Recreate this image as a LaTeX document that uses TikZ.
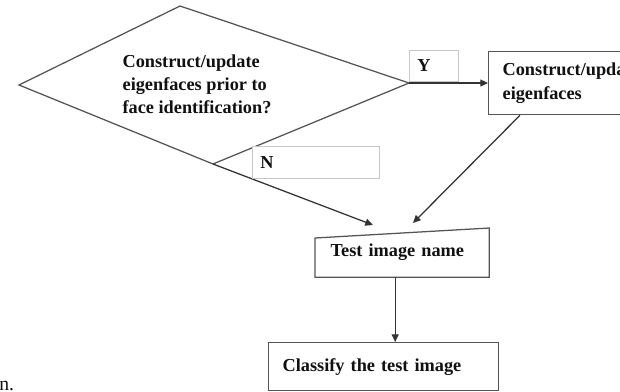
\documentclass[tikz,border=0pt]{standalone}
\usepackage{fontspec}
\setmainfont{Liberation Serif}
\usetikzlibrary{arrows.meta, positioning, calc}
\definecolor{shapegray}{HTML}{555555}
\definecolor{arrowdark}{HTML}{333333}
\definecolor{labelgray}{HTML}{C8C8C8}
\definecolor{textdark}{HTML}{111111}

\begin{document}
\begin{tikzpicture}[
    x=0.025cm, y=-0.025cm,
    % ── Node styles ──────────────────────────────────────────────────────
    base/.style={
        font=\fontsize{13}{17}\selectfont\bfseries,
        text=textdark, align=left, line width=0.9pt
    },
    procbox/.style={
        base, draw=shapegray, fill=white, anchor=north west,
        inner xsep=0.35cm, inner ysep=0pt
    },
    inputbox/.style={
        base, anchor=north west,
        inner xsep=0.375cm, inner ysep=0pt
    },
    answerbox/.style={
        base, draw=labelgray, line width=0.5pt, fill=white,
        anchor=north west, inner xsep=0.2cm, inner ysep=0pt
    },
    questiontext/.style={
        base, font=\fontsize{13}{16.5}\selectfont\bfseries,
        anchor=west, inner sep=0pt
    },
    outline/.style={draw=shapegray, line width=0.9pt, line join=miter},
    pagetext/.style={
        font=\fontsize{14}{16}\selectfont, text=textdark, inner sep=0pt
    },
    % ── Arrow style ──────────────────────────────────────────────────────
    arr/.style={
        -{Triangle[length=5.5pt, width=5pt]},
        line width=0.9pt, draw=arrowdark
    }
]
\clip (0,0) rectangle (620,391);

% ═══════════════════════════════════════════════════════════════════════
% 1. Decision diamond
% ═══════════════════════════════════════════════════════════════════════
\coordinate (decT) at (180,6);
\coordinate (decL) at (19,85);
\coordinate (decR) at (409,83);
\coordinate (decB) at (213,164);
\draw[outline] (decT) -- (decR) -- (decB) -- (decL) -- cycle;

\node[questiontext] (question) at (122,84)
    {Construct/update\\eigenfaces prior to\\face identification?};

% ═══════════════════════════════════════════════════════════════════════
% 2. Process boxes
% ═══════════════════════════════════════════════════════════════════════
\node[procbox, minimum height=1.575cm, text width=3.6cm] (eigen) at (488,51)
    {Construct/update\\eigenfaces};

\node[inputbox, minimum width=4.325cm, minimum height=1.2cm,
      text width=3.575cm] (testname) at (315,228)
    {\raisebox{-0.12cm}{Test image name}};
\draw[outline] (testname.south west) -- (testname.south east)
    -- (testname.north east) -- ($(testname.north west)+(0,10)$) -- cycle;

\node[procbox, minimum height=1.2cm, text width=5.05cm] (classify) at (268,342)
    {Classify the test image};

% ═══════════════════════════════════════════════════════════════════════
% 3. Connectors
% ═══════════════════════════════════════════════════════════════════════
\draw[arr] (decR) -- (decR -| eigen.west);
\draw[arr] (decB) -- ($(testname.north west)+(58,-3)$);
\draw[arr] ($(eigen.south west)+(32,0)$) -- ($(testname.north west)+(98,-5)$);

\coordinate (testout) at ($(testname.south west)!0.46!(testname.south east)$);
\draw[arr] (testout) -- (testout |- classify.north);

% Answer labels
\node[answerbox, minimum height=0.775cm, text width=0.825cm] (yes) at (409,50) {Y};
\node[answerbox, minimum height=0.8cm, text width=2.775cm] (no) at (252,146) {N};

% Page text cut by the crop
\node[pagetext, anchor=base west] (pagefrag) at (-1,390) {n.};

\end{tikzpicture}
\end{document}
